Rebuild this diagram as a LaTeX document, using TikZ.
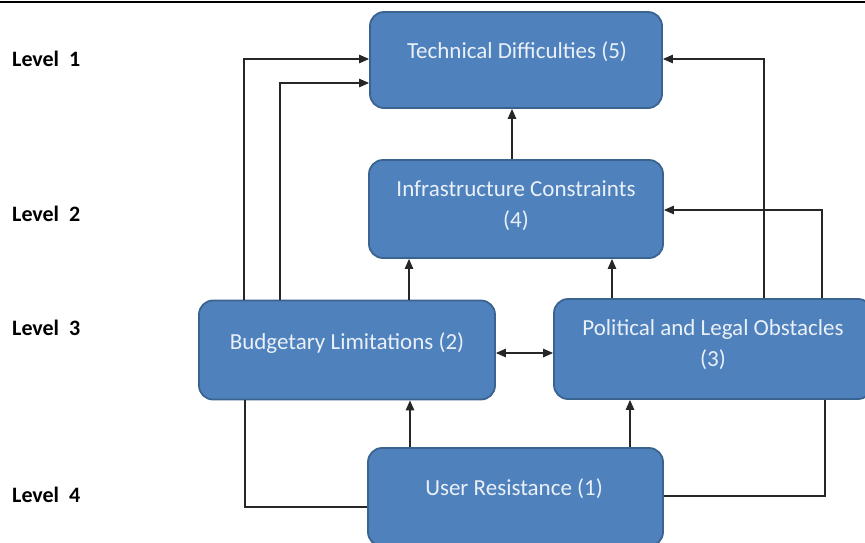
\documentclass[tikz,border=0pt]{standalone}
\usepackage{fontspec}
\setmainfont{Carlito}
\usetikzlibrary{arrows.meta}
\definecolor{boxfill}{HTML}{4F81BD}
\definecolor{boxline}{HTML}{3A6390}
\definecolor{boxtext}{HTML}{EAF0F8}
\begin{document}
\begin{tikzpicture}[x=1pt,y=-1pt,
  box/.style={draw=boxline, fill=boxfill, line width=1.8pt, rounded corners=14pt},
  lbl/.style={text=boxtext, font=\fontsize{23}{31}\selectfont, align=center, inner sep=0pt},
  lvl/.style={font=\bfseries\fontsize{22}{24}\selectfont, anchor=west, inner sep=0pt},
  conn/.style={line width=1.2pt, draw=black!85},
  arr/.style={conn, -{Triangle[length=10pt,width=8.5pt]}},
  darr/.style={conn, {Triangle[length=10pt,width=8.5pt]}-{Triangle[length=10pt,width=8.5pt]}},
]
\useasboundingbox (0,0) rectangle (865,542);
\draw[line width=1.6pt] (0,2) -- (865,2);

% level labels
\node[lvl] (l1) at (12,59) {Level~~1};
\node[lvl] (l2) at (12,214) {Level~~2};
\node[lvl] (l3) at (12,328) {Level~~3};
\node[lvl] (l4) at (12,495) {Level~~4};

% boxes
\node[box, minimum width=292pt, minimum height=96pt] (tech) at (516,60) {};
\node[box, minimum width=294pt, minimum height=98pt] (infra) at (516,209) {};
\node[box, minimum width=296pt, minimum height=99pt] (bud) at (347,350) {};
\node[box, minimum width=318pt, minimum height=100pt] (pol) at (713,349) {};
\node[box, minimum width=295pt, minimum height=98pt] (user) at (515.5,497) {};

% box texts
\node[lbl] (techT) at (517,52) {Technical Difficulties (5)};
\node[lbl] (infraT) at (516,206) {Infrastructure Constraints\\(4)};
\node[lbl] (budT) at (347,343) {Budgetary Limitations (2)};
\node[lbl] (polT) at (713,345) {Political and Legal Obstacles\\(3)};
\node[lbl] (userT) at (514,489) {User Resistance (1)};

% connectors
\draw[arr] (244,0 |- bud.north) |- (tech.west |- 0,59);
\draw[arr] (280,0 |- bud.north) |- (tech.west |- 0,83);
\draw[arr] (409,0 |- bud.north) -- (409,0 |- infra.south);
\draw[arr] (512,0 |- infra.north) -- (512,0 |- tech.south);
\draw[arr] (612,0 |- pol.north) -- (612,0 |- infra.south);
\draw[arr] (764,0 |- pol.north) |- (tech.east |- 0,59);
\draw[arr] (822,0 |- pol.north) |- (infra.east |- 0,210);
\draw[darr] (bud.east |- 0,353) -- (pol.west |- 0,353);
\draw[arr] (410,0 |- user.north) -- (410,0 |- bud.south);
\draw[arr] (630,0 |- user.north) -- (630,0 |- pol.south);
\draw[conn] (245,0 |- bud.south) |- (user.west |- 0,507);
\draw[conn] (user.east |- 0,496) -| (825,0 |- pol.south);
\end{tikzpicture}
\end{document}
